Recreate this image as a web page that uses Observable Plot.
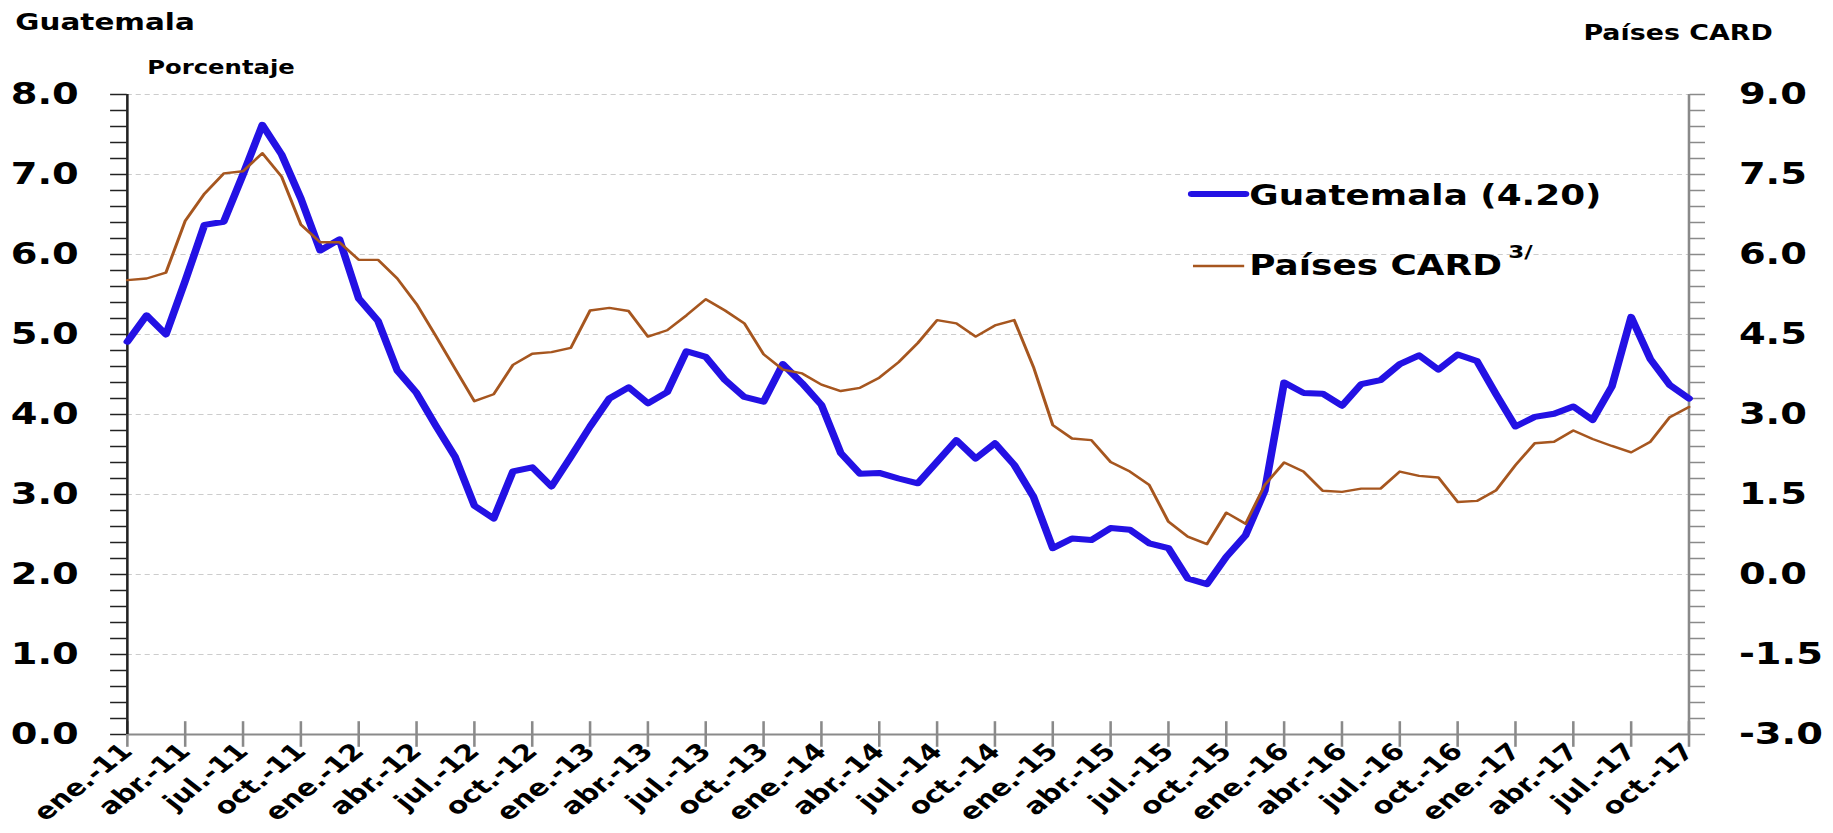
<!DOCTYPE html>
<html><head><meta charset="utf-8">
<script src="https://cdn.jsdelivr.net/npm/d3@7"></script>
<script src="https://cdn.jsdelivr.net/npm/@observablehq/plot@0.6"></script>
<style>body{margin:0;background:#fff;} #chart{position:relative;width:1833px;height:833px;overflow:hidden;}</style>
</head><body><div id="chart"></div>
<script>
// Tick labels every 3 months (ene.-11 ... oct.-17)
const tickLabels = ["ene.-11","abr.-11","jul.-11","oct.-11","ene.-12","abr.-12","jul.-12","oct.-12",
 "ene.-13","abr.-13","jul.-13","oct.-13","ene.-14","abr.-14","jul.-14","oct.-14",
 "ene.-15","abr.-15","jul.-15","oct.-15","ene.-16","abr.-16","jul.-16","oct.-16",
 "ene.-17","abr.-17","jul.-17","oct.-17"];
// Monthly series, ene-11 .. oct-17 (82 months)
const guatemala = [4.91,5.24,5.00,5.67,6.37,6.41,7.00,7.62,7.25,6.70,6.05,6.19,
 5.45,5.17,4.55,4.27,3.86,3.47,2.86,2.70,3.29,3.34,3.10,3.47,
 3.85,4.20,4.34,4.14,4.28,4.79,4.72,4.43,4.22,4.16,4.63,4.39,
 4.12,3.52,3.26,3.27,3.20,3.14,3.41,3.68,3.45,3.64,3.37,2.97,
 2.33,2.45,2.43,2.58,2.56,2.39,2.33,1.95,1.88,2.22,2.49,3.05,
 4.40,4.27,4.26,4.11,4.38,4.43,4.63,4.74,4.56,4.75,4.67,4.25,
 3.85,3.97,4.01,4.10,3.93,4.35,5.22,4.69,4.37,4.20];
const paisesCARD = [5.52,5.55,5.66,6.63,7.14,7.52,7.56,7.90,7.46,6.56,6.23,6.23,
 5.90,5.90,5.55,5.07,4.47,3.86,3.25,3.38,3.93,4.14,4.17,4.25,
 4.95,5.00,4.94,4.46,4.58,4.86,5.16,4.95,4.71,4.13,3.84,3.77,
 3.56,3.44,3.50,3.69,3.98,4.34,4.77,4.71,4.46,4.67,4.77,3.89,
 2.80,2.55,2.52,2.11,1.93,1.68,0.99,0.71,0.57,1.16,0.95,1.68,
 2.10,1.93,1.57,1.55,1.61,1.61,1.93,1.85,1.82,1.36,1.38,1.58,
 2.05,2.46,2.49,2.70,2.54,2.41,2.29,2.49,2.95,3.14];
const leftTicks = [0,1,2,3,4,5,6,7,8];
const rightTicks = [-3,-1.5,0,1.5,3,4.5,6,7.5,9];
const legendNames = ["Guatemala (4.20)","Países CARD"];

const rows = guatemala.map((v,i)=>({i, gt:v, card:paisesCARD[i]}));
const toLeft = r => (r+3)/1.5;           // right-axis value -> left-axis units
const minorTicks = d3.range(0,40.5,1).map(k=>k/5);
const tickPos = tickLabels.map((d,k)=>k*3);
const FONT = "DejaVu Sans";
const BLUE = "#2311e4", BROWN = "#a6561f";

// The original picture is stretched horizontally; draw narrower and stretch the SVG.
const S = 1.28, W = Math.round(1833/S), H = 833;

const plot = Plot.plot({
  width:W, height:H,
  marginLeft:99, marginRight:113, marginTop:94, marginBottom:99,
  style:{fontFamily:FONT, background:"#fff", overflow:"visible"},
  x:{domain:[0,81], label:null},
  y:{domain:[0,8], label:null},
  marks:[
    Plot.gridY(leftTicks.slice(1), {stroke:"#cccccc", strokeOpacity:1, strokeDasharray:"4,3"}),
    Plot.axisY(minorTicks, {anchor:"left", tickSize:13, text:null, stroke:"#222", strokeWidth:1.5, label:null}),
    Plot.axisY(leftTicks, {anchor:"left", tickSize:0, tickPadding:38, tickFormat:d=>d.toFixed(1),
      fontSize:30, fontWeight:"bold", fill:"#000", label:null}),
    Plot.axisY(minorTicks, {anchor:"right", tickSize:12, text:null, stroke:"#8a8a8a", strokeWidth:1.5, label:null}),
    Plot.axisY(rightTicks.map(toLeft), {anchor:"right", tickSize:0, tickPadding:39,
      tickFormat:d=>(d*1.5-3).toFixed(1), fontSize:30, fontWeight:"bold", fill:"#000", label:null}),
    Plot.axisX(tickPos, {tickSize:0, tickPadding:13, tickRotate:-45, tickFormat:d=>tickLabels[d/3],
      fontSize:23, fontWeight:"bold", fill:"#000", label:null}),
    Plot.ruleX(tickPos, {y1:-0.16, y2:0.16, stroke:"#8a8a8a", strokeWidth:2, clip:false}),
    Plot.ruleY([0], {stroke:"#8a8a8a", strokeWidth:2}),
    Plot.ruleX([81], {stroke:"#8a8a8a", strokeWidth:2}),
    Plot.ruleX([0], {stroke:"#222", strokeWidth:2}),
    Plot.line(rows, {x:"i", y:"gt", stroke:BLUE, strokeWidth:6, strokeLinejoin:"round"}),
    Plot.line(rows, {x:"i", y:d=>toLeft(d.card), stroke:BROWN, strokeWidth:2.4, strokeLinejoin:"round"})
  ]
});
plot.setAttribute("width", 1833);
plot.setAttribute("height", H);
plot.setAttribute("viewBox", `0 0 ${W} ${H}`);
plot.setAttribute("preserveAspectRatio", "none");
plot.style.maxWidth = "none";
plot.style.width = "1833px";
plot.style.height = H + "px";
document.getElementById("chart").appendChild(plot);

const svg = d3.select(plot);
// Titles
const tt = svg.append("g").attr("font-family",FONT).attr("font-weight","bold").attr("text-anchor","start").attr("fill","#000");
tt.append("text").attr("x",12).attr("y",30).attr("font-size",23).text("Guatemala");
tt.append("text").attr("x",115).attr("y",74).attr("font-size",19).text("Porcentaje");
tt.append("text").attr("x",1237).attr("y",40).attr("font-size",21).text("Países CARD");
// Legend
const lg = svg.append("g").attr("font-family",FONT).attr("font-weight","bold").attr("font-size",28)
  .attr("text-anchor","start").attr("fill","#000");
lg.append("line").attr("x1",931).attr("x2",973).attr("y1",194).attr("y2",194)
  .attr("stroke",BLUE).attr("stroke-width",6).attr("stroke-linecap","round");
lg.append("text").attr("x",976).attr("y",205).text(legendNames[0]);
lg.append("line").attr("x1",932).attr("x2",972).attr("y1",266).attr("y2",266)
  .attr("stroke",BROWN).attr("stroke-width",2.4);
const t2 = lg.append("text").attr("x",976).attr("y",275).text(legendNames[1]);
t2.append("tspan").attr("dx",5).attr("dy",-17).attr("font-size",18).text("3/");
</script></body></html>
